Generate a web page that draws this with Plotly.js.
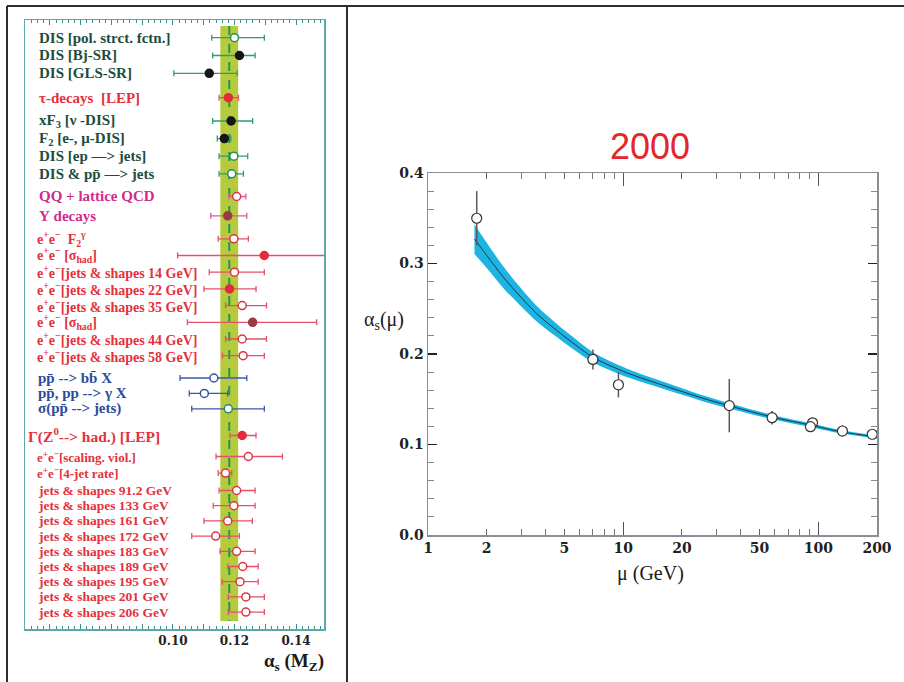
<!DOCTYPE html>
<html>
<head>
<meta charset="utf-8">
<script src="https://cdn.plot.ly/plotly-3.0.1.min.js"></script>
<style>
  html, body { margin: 0; padding: 0; background: #ffffff; }
  #chart { width: 904px; height: 682px; }
</style>
</head>
<body>
<div id="chart"></div>
<script>
// ---------- Left panel: alpha_s(M_Z) measurements ----------
const labels = [
  'DIS [pol. strct. fctn.]',
  'DIS [Bj-SR]',
  'DIS [GLS-SR]',
  'τ-decays&nbsp;&nbsp;[LEP]',
  'xF<sub>3</sub> [ν -DIS]',
  'F<sub>2</sub> [e-, μ-DIS]',
  'DIS [ep —&gt; jets]',
  'DIS &amp; pp̄ —&gt; jets',
  'QQ + lattice QCD',
  'Υ decays',
  'e<sup>+</sup>e<sup>−</sup>&nbsp;&nbsp;F<sub>2</sub><sup>γ</sup>',
  'e<sup>+</sup>e<sup>−</sup> [σ<sub>had</sub>]',
  'e<sup>+</sup>e<sup>−</sup>[jets &amp; shapes 14 GeV]',
  'e<sup>+</sup>e<sup>−</sup>[jets &amp; shapes 22 GeV]',
  'e<sup>+</sup>e<sup>−</sup>[jets &amp; shapes 35 GeV]',
  'e<sup>+</sup>e<sup>−</sup> [σ<sub>had</sub>]',
  'e<sup>+</sup>e<sup>−</sup>[jets &amp; shapes 44 GeV]',
  'e<sup>+</sup>e<sup>−</sup>[jets &amp; shapes 58 GeV]',
  'pp̄ --&gt; bb̄ X',
  'pp̄, pp --&gt; γ X',
  'σ(pp̄ --&gt; jets)',
  'Γ(Z<sup>0</sup>--&gt; had.) [LEP]',
  'e<sup>+</sup>e<sup>−</sup>[scaling. viol.]',
  'e<sup>+</sup>e<sup>−</sup>[4-jet rate]',
  'jets &amp; shapes 91.2 GeV',
  'jets &amp; shapes 133 GeV',
  'jets &amp; shapes 161 GeV',
  'jets &amp; shapes 172 GeV',
  'jets &amp; shapes 183 GeV',
  'jets &amp; shapes 189 GeV',
  'jets &amp; shapes 195 GeV',
  'jets &amp; shapes 201 GeV',
  'jets &amp; shapes 206 GeV'
];

const alphaMZ = [
  0.1200, 0.1216, 0.1118, 0.1180, 0.1189, 0.1167, 0.1198, 0.1191,
  0.1207, 0.1178,
  0.1198, 0.1297, 0.1200, 0.1184, 0.1225, 0.1259, 0.1225, 0.1228,
  0.1133, 0.1102, 0.1180,
  0.1225,
  0.1245, 0.1171, 0.1207, 0.1198, 0.1178, 0.1139, 0.1207, 0.1227, 0.1218, 0.1237, 0.1237
];

const errMinus = [
  0.0074, 0.0087, 0.0115, 0.0030, 0.0060, 0.0023, 0.0048, 0.0041,
  0.0025, 0.0055,
  0.0051, 0.0282, 0.0082, 0.0083, 0.0054, 0.0212, 0.0054, 0.0067,
  0.0110, 0.0049, 0.0119,
  0.0040,
  0.0105, 0.0024, 0.0057, 0.0067, 0.0077, 0.0078, 0.0054, 0.0049, 0.0058, 0.0057, 0.0057
];

const errPlus = [
  0.0097, 0.0051, 0.0091, 0.0033, 0.0070, 0.0021, 0.0045, 0.0038,
  0.0030, 0.0062,
  0.0047, 0.0210, 0.0097, 0.0086, 0.0079, 0.0208, 0.0079, 0.0069,
  0.0107, 0.0076, 0.0117,
  0.0045,
  0.0111, 0.0020, 0.0060, 0.0069, 0.0080, 0.0077, 0.0060, 0.0050, 0.0059, 0.0060, 0.0060
];

// world average band
const worldAvg = 0.1183;
const worldErr = 0.0029;

// ---------- Right panel: running of alpha_s ----------
const muPoints    = [1.777, 7.0, 9.46, 35, 58, 93.5, 91.2, 133, 189];
const alphaPoints = [0.350, 0.194, 0.166, 0.143, 0.1296, 0.124, 0.1197, 0.1149, 0.1113];
const alphaPtErr  = [0.030, 0.011, 0.014, 0.0295, 0.0075, 0.006, 0.003, 0.0062, 0.003];

const muCurve    = [1.73, 2.0, 2.43, 2.96, 3.61, 4.39, 5.35, 7.0, 9.6, 11.3, 16.8, 24.8, 35.4, 59, 91, 130, 200];
const alphaCurve = [0.327, 0.309, 0.285, 0.264, 0.2445, 0.229, 0.2145, 0.1965, 0.1825, 0.1765, 0.164, 0.152, 0.1425, 0.130, 0.1215, 0.1142, 0.1083];
const bandHalf   = [0.0165, 0.0140, 0.0120, 0.0100, 0.0085, 0.0075, 0.0067, 0.0055, 0.0048, 0.0045, 0.0039, 0.0033, 0.0029, 0.0024, 0.0021, 0.0019, 0.0017];

// ---------- styling / layout of the label sections ----------
const W = 904, H = 682;
const C = {
  disText: '#1c4d3d', disBar: '#2f9c72', disEdge: '#2a8a62',
  redText: '#e5303c', redBar: '#e6506a', redEdge: '#dc3442',
  magText: '#d22a8c', magBar: '#e2589a',
  blueText: '#2a4c9c', blueBar: '#3b5aa5', blueEdge: '#3a55a0',
  black: '#161616', redFill: '#e62a3a', brown: '#9a3c44'
};
// each section: number of rows, gap before it, row step (px), label look
const sections = [
  {n: 3, gap: 0,    step: 17.8, text: C.disText,  bar: C.disBar,  edge: C.disEdge, size: 15,   lx: 37},
  {n: 1, gap: 24.4, step: 0,    text: C.redText,  bar: C.redBar,  edge: C.redEdge, size: 15,   lx: 37},
  {n: 4, gap: 23.3, step: 17.6, text: C.disText,  bar: C.disBar,  edge: C.disEdge, size: 15,   lx: 37},
  {n: 2, gap: 22.7, step: 19.3, text: C.magText,  bar: C.magBar,  edge: C.redEdge, size: 15,   lx: 37},
  {n: 8, gap: 23.0, step: 16.7, text: C.redText,  bar: C.redBar,  edge: C.redEdge, size: 14,   lx: 35},
  {n: 3, gap: 22.3, step: 15.4, text: C.blueText, bar: C.blueBar, edge: C.blueEdge, size: 15,  lx: 36},
  {n: 1, gap: 26.7, step: 0,    text: C.redText,  bar: C.redBar,  edge: C.redEdge, size: 15.5, lx: 26},
  {n: 2, gap: 21.0, step: 16.6, text: C.redText,  bar: C.redBar,  edge: C.redEdge, size: 13,   lx: 35},
  {n: 9, gap: 17.4, step: 15.2, text: C.redText,  bar: C.redBar,  edge: C.redEdge, size: 13.5, lx: 36}
];
// o = open, k = black, r = red, b = brown, g = open with green rim
const markerKind = 'okkrkkooobororoboooogrooooooooooo';

const plotTop = 20, plotBottom = 629, firstRow = 37.7;

// vertical position (px from top) of every row
const rowY = [];
const rowSec = [];
{
  let y = firstRow;
  sections.forEach((s, si) => {
    if (si > 0) y += s.gap;
    for (let r = 0; r < s.n; r++) {
      if (r > 0) y += s.step;
      rowY.push(y);
      rowSec.push(si);
    }
  });
}

const traces = [];
const annotations = [];

sections.forEach((s, si) => {
  const idx = rowSec.map((v, i) => v === si ? i : -1).filter(i => i >= 0);
  const fills = [], edges = [];
  idx.forEach(i => {
    const k = markerKind[i];
    if (k === 'k') { fills.push(C.black); edges.push(C.black); }
    else if (k === 'r') { fills.push(C.redFill); edges.push(C.redFill); }
    else if (k === 'b') { fills.push(C.brown); edges.push(C.brown); }
    else if (k === 'g') { fills.push('#ffffff'); edges.push(C.disEdge); }
    else { fills.push('#ffffff'); edges.push(s.edge); }
  });
  traces.push({
    type: 'scatter', mode: 'markers', xaxis: 'x', yaxis: 'y',
    x: idx.map(i => alphaMZ[i]),
    y: idx.map(i => rowY[i]),
    error_x: {
      type: 'data', symmetric: false,
      array: idx.map(i => errPlus[i]),
      arrayminus: idx.map(i => errMinus[i]),
      color: s.bar, thickness: 1.3, width: 3
    },
    marker: { symbol: 'circle', size: 8, color: fills, line: { color: edges, width: 1.5 } },
    hoverinfo: 'skip', showlegend: false, cliponaxis: false
  });
  idx.forEach(i => {
    annotations.push({
      xref: 'paper', yref: 'y', x: s.lx / W, y: rowY[i],
      xanchor: 'left', yanchor: 'middle', showarrow: false,
      text: labels[i],
      font: { family: 'Liberation Serif', size: s.size, color: s.text, weight: 'bold' }
    });
  });
});

// Right panel: uncertainty band, central curve, measurements
const bandLow = alphaCurve.map((a, i) => a - bandHalf[i]);
const bandHigh = alphaCurve.map((a, i) => a + bandHalf[i]);
traces.push({
  type: 'scatter', mode: 'lines', xaxis: 'x2', yaxis: 'y2',
  x: muCurve, y: bandLow, line: { width: 0, shape: 'spline' },
  hoverinfo: 'skip', showlegend: false
});
traces.push({
  type: 'scatter', mode: 'lines', xaxis: 'x2', yaxis: 'y2',
  x: muCurve, y: bandHigh, fill: 'tonexty', fillcolor: '#1db4e3',
  line: { width: 0, shape: 'spline' }, hoverinfo: 'skip', showlegend: false
});
traces.push({
  type: 'scatter', mode: 'lines', xaxis: 'x2', yaxis: 'y2',
  x: muCurve, y: alphaCurve, line: { color: '#1b3a48', width: 1, shape: 'spline' },
  hoverinfo: 'skip', showlegend: false
});
traces.push({
  type: 'scatter', mode: 'markers', xaxis: 'x2', yaxis: 'y2',
  x: muPoints, y: alphaPoints,
  error_y: { type: 'data', array: alphaPtErr, color: '#5a5a5a', thickness: 1.5, width: 0 },
  marker: { symbol: 'circle', size: 10, color: '#ffffff', line: { color: '#333333', width: 1.2 } },
  hoverinfo: 'skip', showlegend: false
});
// long decade ticks on the log axis
traces.push({
  type: 'scatter', mode: 'markers', xaxis: 'x3', yaxis: 'y2',
  x: [], y: [], hoverinfo: 'skip', showlegend: false
});

annotations.push(
  { xref: 'paper', yref: 'paper', x: 326 / W, y: 1 - 662 / H, xanchor: 'right', yanchor: 'middle',
    showarrow: false, text: '<b>α<sub>s</sub> (M<sub>Z</sub>)</b>',
    font: { family: 'Liberation Serif', size: 19, color: '#1a1a1a' } },
  { xref: 'paper', yref: 'paper', x: 384 / W, y: 1 - 320 / H, xanchor: 'center', yanchor: 'middle',
    showarrow: false, text: 'α<sub>s</sub>(μ)',
    font: { family: 'Liberation Serif', size: 20, color: '#1a1a1a' } },
  { xref: 'paper', yref: 'paper', x: 650 / W, y: 1 - 573 / H, xanchor: 'center', yanchor: 'middle',
    showarrow: false, text: 'μ (GeV)',
    font: { family: 'Liberation Serif', size: 20, color: '#1a1a1a' } }
);

const frame = { color: '#2d2d2d', width: 2 };
const shapes = [
  // world average band and its central value
  { type: 'rect', xref: 'x', yref: 'y', x0: worldAvg - worldErr, x1: worldAvg + worldErr,
    y0: 26, y1: 621, fillcolor: '#b5ca3c', line: { width: 0 }, layer: 'below' },
  { type: 'line', xref: 'x', yref: 'y', x0: worldAvg, x1: worldAvg, y0: 26, y1: 621,
    line: { color: '#1f9a4c', width: 2, dash: 'dash' }, layer: 'below' },
  // outer frames of the two panels
  { type: 'line', xref: 'paper', yref: 'paper', x0: 7 / W, x1: 1, y0: 1 - 6 / H, y1: 1 - 6 / H, line: frame },
  { type: 'line', xref: 'paper', yref: 'paper', x0: 7 / W, x1: 7 / W, y0: 0, y1: 1 - 6 / H, line: frame },
  { type: 'line', xref: 'paper', yref: 'paper', x0: 347 / W, x1: 347 / W, y0: 0, y1: 1 - 6 / H, line: frame }
];

const teal = '#5ea8a8';
const rDomX = [428 / W, 877 / W];
const rDomY = [1 - 535 / H, 1 - 173 / H];
const layout = {
  width: W, height: H,
  margin: { l: 0, r: 0, t: 0, b: 0 },
  paper_bgcolor: '#ffffff', plot_bgcolor: 'rgba(0,0,0,0)',
  showlegend: false,
  title: { text: '2000', x: 650 / W, y: 1 - 146 / H, xanchor: 'center', yanchor: 'middle',
           font: { family: 'Liberation Sans', size: 36, color: '#e5252b' } },
  xaxis: {
    domain: [25 / W, 324 / W], range: [0.0519, 0.1491], anchor: 'y',
    tickmode: 'array',
    tickvals: [0.06, 0.07, 0.08, 0.09, 0.10, 0.11, 0.12, 0.13, 0.14],
    ticktext: ['', '', '', '', '0.10', '', '0.12', '', '0.14'],
    ticks: 'inside', ticklen: 5, tickwidth: 1, tickcolor: '#3f8c8c',
    minor: { dtick: 0.002, tick0: 0, ticks: 'inside', ticklen: 3, tickwidth: 1, tickcolor: '#3f8c8c' },
    showline: true, linecolor: teal, linewidth: 1.5, mirror: 'ticks',
    showgrid: false, zeroline: false,
    tickfont: { family: 'DejaVu Serif', size: 12, color: '#222222', weight: 'bold' }
  },
  yaxis: {
    domain: [1 - plotBottom / H, 1 - plotTop / H], range: [plotBottom, plotTop], anchor: 'x',
    showline: true, linecolor: teal, linewidth: 1.5, mirror: true,
    ticks: '', showticklabels: false, showgrid: false, zeroline: false
  },
  xaxis2: {
    domain: rDomX, type: 'log', range: [0, Math.log10(200)], anchor: 'y2',
    tickmode: 'array', tickvals: [1, 2, 5, 10, 20, 50, 100, 200],
    ticktext: ['1', '2', '5', '10', '20', '50', '100', '200'],
    ticks: 'inside', ticklen: 6, tickwidth: 1, tickcolor: '#666666',
    minor: { tickmode: 'array', tickvals: [3, 4, 6, 7, 8, 9, 30, 40, 60, 70, 80, 90],
             ticks: 'inside', ticklen: 6, tickwidth: 1, tickcolor: '#777777' },
    showline: true, linecolor: '#8c8c96', linewidth: 1.5, mirror: 'ticks',
    showgrid: false, zeroline: false,
    tickfont: { family: 'DejaVu Serif', size: 14, color: '#222222', weight: 'bold' }
  },
  xaxis3: {
    domain: rDomX, type: 'log', range: [0, Math.log10(200)], anchor: 'y2', overlaying: 'x2',
    tickmode: 'array', tickvals: [1, 10, 100], showticklabels: false,
    ticks: 'inside', ticklen: 13, tickwidth: 1.2, tickcolor: '#555555',
    showline: false, mirror: 'ticks', showgrid: false, zeroline: false
  },
  yaxis2: {
    domain: rDomY, range: [0, 0.4], anchor: 'x2',
    dtick: 0.1, tick0: 0, tickformat: '.1f',
    ticks: 'inside', ticklen: 9, tickwidth: 1.3, tickcolor: '#222222',
    minor: { dtick: 0.02, tick0: 0, ticks: 'inside', ticklen: 6, tickwidth: 1, tickcolor: '#888888' },
    showline: true, linecolor: '#8c8c96', linewidth: 1.5, mirror: 'ticks',
    showgrid: false, zeroline: false,
    tickfont: { family: 'DejaVu Serif', size: 14, color: '#222222', weight: 'bold' }
  },
  annotations: annotations,
  shapes: shapes
};

Plotly.newPlot('chart', traces, layout, { staticPlot: true, displayModeBar: false });
</script>
</body>
</html>
